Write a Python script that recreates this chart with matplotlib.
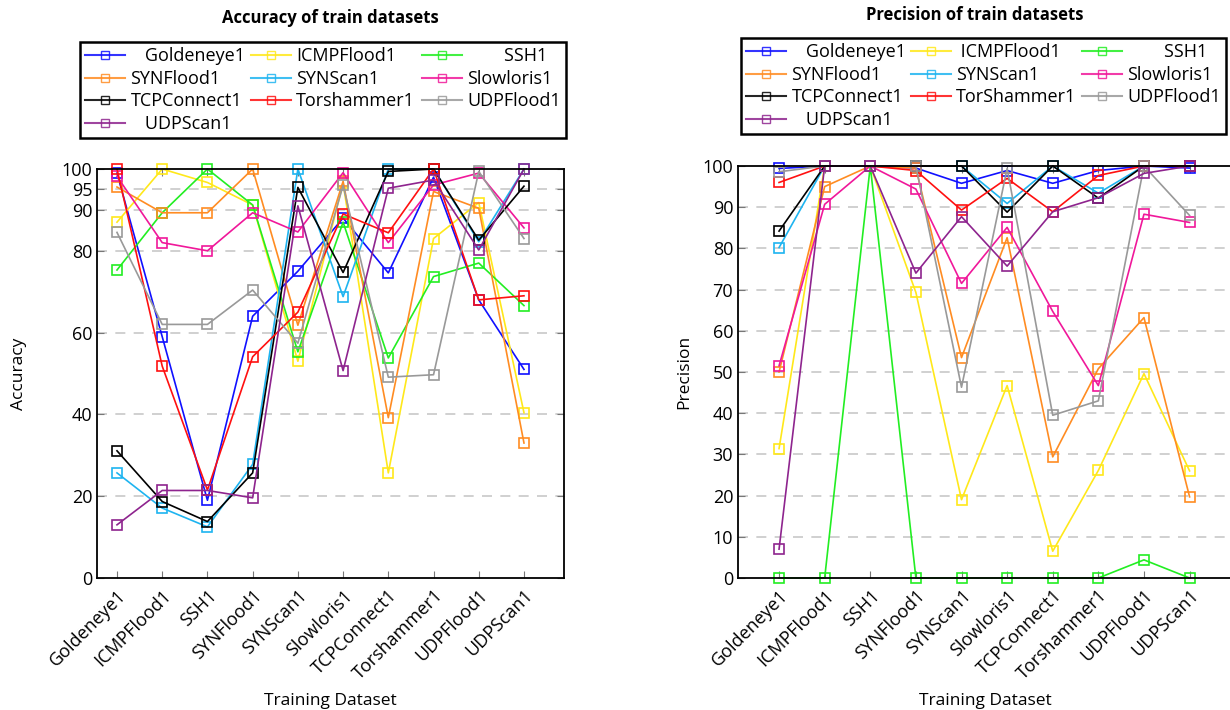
import matplotlib
matplotlib.use("Agg")
import matplotlib.pyplot as plt
from matplotlib.lines import Line2D

plt.rcParams['font.family'] = ['Open Sans', 'DejaVu Sans']

categories = ["Goldeneye1", "ICMPFlood1", "SSH1", "SYNFlood1", "SYNScan1",
              "Slowloris1", "TCPConnect1", "Torshammer1", "UDPFlood1", "UDPScan1"]

series_names = ["Goldeneye1", "ICMPFlood1", "SSH1", "SYNFlood1", "SYNScan1",
                "Slowloris1", "TCPConnect1", "Torshammer1", "UDPFlood1", "UDPScan1"]
legend_left = ["   Goldeneye1", "ICMPFlood1", "        SSH1", "SYNFlood1", "SYNScan1",
               "Slowloris1", "TCPConnect1", "Torshammer1", "UDPFlood1", "   UDPScan1"]
legend_right = ["   Goldeneye1", " ICMPFlood1", "        SSH1", "SYNFlood1", "SYNScan1",
                "Slowloris1", "TCPConnect1", "TorShammer1", "UDPFlood1", "   UDPScan1"]

colors = ["#1010FF", "#FFE81A", "#22EE22", "#FF8C22", "#1EB4F0",
          "#F0189A", "#000000", "#FF1010", "#999999", "#8E248E"]

# Accuracy (left chart)
acc_goldeneye = [99, 59, 19, 64, 75, 88, 74.6, 98, 68, 51]
acc_icmp = [87, 100, 96.7, 91.2, 53, 96.5, 25.7, 83, 91.8, 40.4]
acc_ssh = [75.3, 89.3, 100, 91.2, 55.3, 87, 53.8, 73.7, 77, 66.6]
acc_synflood = [95.6, 89.3, 89.3, 100, 61.8, 97, 39.2, 94.5, 90.4, 33]
acc_synscan = [25.7, 17.1, 12.5, 27.8, 100, 68.8, 100, 100, 82.2, 100]
acc_slowloris = [98.2, 82, 80, 89.3, 84.6, 99.1, 82, 96.1, 99, 85.6]
acc_tcpconnect = [31.1, 18.7, 13.8, 25.7, 95.5, 74.7, 99.4, 100, 82.6, 95.8]
acc_torshammer = [100, 51.8, 21.5, 54.1, 65, 89, 84.4, 100, 68, 69]
acc_udpflood = [84.5, 62, 62, 70.4, 57.4, 96, 49.1, 49.7, 99.4, 83]
acc_udpscan = [13, 21.4, 21.4, 19.6, 91, 50.7, 95.3, 97.3, 80.2, 100]

# Precision (right chart)
pre_goldeneye = [99.4, 100, 100, 99.5, 95.8, 98.9, 95.8, 98.9, 100, 99.5]
pre_icmp = [31.4, 100, 100, 69.3, 19, 46.7, 6.5, 26.1, 49.6, 26]
pre_ssh = [0, 0, 100, 0, 0, 0, 0, 0, 4.4, 0]
pre_synflood = [50, 95, 100, 99.5, 53.5, 82.6, 29.4, 50.8, 63.2, 19.7]
pre_synscan = [80.2, 100, 100, 100, 100, 90.9, 100, 93.4, 100, 100]
pre_slowloris = [51.5, 90.7, 100, 94.4, 71.5, 85.1, 64.7, 46.7, 88.3, 86.3]
pre_tcpconnect = [84.2, 100, 100, 100, 100, 88.8, 100, 92.2, 100, 100]
pre_torshammer = [96, 100, 100, 98.9, 89.3, 97, 88.9, 97.7, 100, 100]
pre_udpflood = [98.6, 100, 100, 100, 46.3, 99.4, 39.5, 43, 100, 88]
pre_udpscan = [7, 100, 100, 74, 87.7, 75.7, 88.9, 92.3, 98.2, 100]

acc_series = [acc_goldeneye, acc_icmp, acc_ssh, acc_synflood, acc_synscan,
              acc_slowloris, acc_tcpconnect, acc_torshammer, acc_udpflood, acc_udpscan]
pre_series = [pre_goldeneye, pre_icmp, pre_ssh, pre_synflood, pre_synscan,
              pre_slowloris, pre_tcpconnect, pre_torshammer, pre_udpflood, pre_udpscan]

acc_yticks = [0, 20, 40, 60, 80, 90, 95, 100]
pre_yticks = [0, 10, 20, 30, 40, 50, 60, 70, 80, 90, 100]

W, H = 1230, 710
fig = plt.figure(figsize=(W / 100, H / 100), dpi=100)

def px_axes(l, t, r, b):
    return fig.add_axes([l / W, 1 - b / H, (r - l) / W, (b - t) / H])

ax1 = px_axes(97, 169, 564, 578)
ax2 = px_axes(738, 166, 1232, 578)

x = list(range(len(categories)))

def style(ax, yticks, xlim, ylabel, ylab_x, xlab_y, right_spine=True):
    ax.set_xlim(*xlim)
    ax.set_ylim(0, 100)
    ax.set_yticks(yticks)
    ax.set_xticks(x)
    ax.set_xticklabels(categories, rotation=45, ha='right', rotation_mode='anchor', fontsize=13)
    ax.tick_params(axis='y', labelsize=13, direction='in', color='#777777', length=5,
                   right=right_spine)
    ax.tick_params(axis='x', direction='in', color='#777777', length=5, top=True, pad=6)
    for yv in yticks:
        if 0 < yv < 100:
            ax.axhline(yv, color='#C8C8C8', linestyle=(0, (6, 5)), linewidth=1.2, zorder=0)
    for s in ax.spines.values():
        s.set_color('black')
        s.set_linewidth(1.3)
    if not right_spine:
        ax.spines['right'].set_visible(False)
    ax.set_ylabel(ylabel, fontsize=12.5)
    ax.set_xlabel("Training Dataset", fontsize=12.5)
    ax.yaxis.set_label_coords(ylab_x, 0.5)
    ax.xaxis.set_label_coords(0.5, xlab_y)

for vals, c in zip(acc_series, colors):
    ax1.plot(x, vals, color=c, linewidth=1.2, marker='s', markersize=7,
             markerfacecolor='none', markeredgecolor=c, markeredgewidth=1.2, clip_on=False)
for vals, c in zip(pre_series, colors):
    ax2.plot(x, vals, color=c, linewidth=1.2, marker='s', markersize=7,
             markerfacecolor='none', markeredgecolor=c, markeredgewidth=1.2, clip_on=False)

style(ax1, acc_yticks, (-0.442, 9.885), "Accuracy", -0.15, -0.282)
style(ax2, pre_yticks, (-0.9, 9.93), "Precision", -0.093, -0.28, right_spine=False)

fig.text(330 / W, 1 - 18 / H, "Accuracy of train datasets", ha='center', va='center',
         fontsize=12, fontweight='bold')
fig.text(975 / W, 1 - 15 / H, "Precision of train datasets", ha='center', va='center',
         fontsize=12, fontweight='bold')

order = [0, 3, 6, 9, 1, 4, 7, 2, 5, 8]

def make_legend(labels, l, t, r, b):
    handles = [Line2D([], [], color=colors[i], linewidth=1.5, marker='s', markersize=6,
                      markerfacecolor='none', markeredgecolor=colors[i], alpha=0.85)
               for i in range(len(labels))]
    hs = [handles[i] for i in order]
    ls = [labels[i] for i in order]
    leg = fig.legend(hs, ls, loc='upper left', ncol=3,
                     bbox_to_anchor=(l / W, 1 - b / H, (r - l) / W, (b - t) / H),
                     mode='expand', fontsize=13, frameon=True, fancybox=False,
                     framealpha=1, handlelength=2.2, handletextpad=0.3, columnspacing=0.5,
                     labelspacing=0.25, borderpad=0.3, borderaxespad=0)
    leg.get_frame().set_edgecolor('black')
    leg.get_frame().set_linewidth(1.8)
    return leg

make_legend(legend_left, 80, 42, 566, 147)
make_legend(legend_right, 741, 38, 1226, 143)

fig.savefig("out.png", dpi=100)
